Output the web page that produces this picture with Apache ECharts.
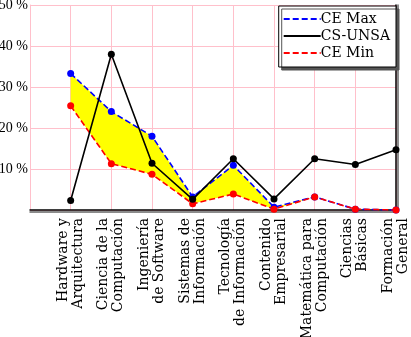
<!DOCTYPE html>
<html>
<head>
<meta charset="utf-8">
<script src="https://cdn.jsdelivr.net/npm/echarts@6/dist/echarts.min.js"></script>
<style>
  html, body { margin: 0; padding: 0; background: #fff; }
  #chart { width: 411px; height: 337px; }
</style>
</head>
<body>
<div id="chart"></div>
<script>
// Share of each knowledge area (%) in the curriculum
const categories = [
  'Hardware y\nArquitectura',
  'Ciencia de la\nComputación',
  'Ingeniería\nde Software',
  'Sistemas de\nInformación',
  'Tecnología\nde Información',
  'Contenido\nEmpresarial',
  'Matemática para\nComputación',
  'Ciencias\nBásicas',
  'Formación\nGeneral'
];
const ceMax  = [33.3, 24.0, 18.0, 3.2, 10.9, 0.7, 3.2, 0.2, 0];
const csUnsa = [2.3, 38.0, 11.4, 2.6, 12.5, 2.7, 12.5, 11.1, 14.7];
const ceMin  = [25.4, 11.3, 8.7, 1.5, 3.9, 0.2, 3.2, 0.2, 0];
const yTicks = [0, 10, 20, 30, 40, 50];

const FONT = 'DejaVu Serif';
const PINK = '#ffc0cb';

// one empty slot before the first area leaves room next to the y axis
const axisCats = [''].concat(categories);
const padded = arr => [null].concat(arr);
const bandWidth = ceMax.map((v, i) => +(v - ceMin[i]).toFixed(2));

const chart = echarts.init(document.getElementById('chart'), null, { renderer: 'canvas' });

chart.setOption({
  animation: false,
  textStyle: { fontFamily: FONT },
  grid: { left: 30, right: 15, top: 5, bottom: 127, containLabel: false, outerBoundsMode: 'none' },
  legend: {
    data: ['CE Max', 'CS-UNSA', 'CE Min'],
    orient: 'vertical',
    right: 15,
    top: 6,
    padding: [6, 6, 7, 4],
    itemWidth: 37,
    itemHeight: 14,
    itemGap: 3,
    backgroundColor: '#fff',
    borderColor: '#000',
    borderWidth: 1,
    borderRadius: 0,
    shadowColor: '#555',
    shadowOffsetX: 3,
    shadowOffsetY: 3,
    shadowBlur: 0,
    itemStyle: { opacity: 0 },
    textStyle: { fontFamily: FONT, fontSize: 14, color: '#000', padding: [0, 0, 0, -5] }
  },
  xAxis: {
    type: 'category',
    data: axisCats,
    boundaryGap: false,
    axisLine: {
      show: true,
      onZero: false,
      lineStyle: { color: '#000', width: 1.5, shadowColor: '#666', shadowOffsetY: 2, shadowBlur: 0 }
    },
    axisTick: { show: false },
    splitLine: { show: true, interval: 0, lineStyle: { color: PINK, width: 1 } },
    axisLabel: {
      show: true,
      interval: 0,
      rotate: 90,
      margin: 8,
      fontFamily: FONT,
      fontSize: 14,
      lineHeight: 15,
      color: '#000'
    }
  },
  yAxis: [
    {
      type: 'value',
      min: yTicks[0],
      max: yTicks[yTicks.length - 1],
      interval: 10,
      axisLine: { show: true, lineStyle: { color: PINK, width: 1 } },
      axisTick: { show: false },
      splitLine: { show: true, lineStyle: { color: PINK, width: 1 } },
      axisLabel: {
        margin: 2,
        fontFamily: 'Liberation Serif',
        fontSize: 14,
        color: '#000',
        formatter: v => (v === 0 ? '' : v + ' %')
      }
    },
    {
      type: 'value',
      position: 'right',
      min: yTicks[0],
      max: yTicks[yTicks.length - 1],
      interval: 10,
      axisLine: {
        show: true,
        lineStyle: { color: '#000', width: 1.5, shadowColor: '#666', shadowOffsetX: 2, shadowBlur: 0 }
      },
      axisTick: { show: false },
      axisLabel: { show: false },
      splitLine: { show: false }
    }
  ],
  series: [
    {
      name: 'band-base',
      type: 'line',
      stack: 'band',
      data: padded(ceMin),
      symbol: 'none',
      lineStyle: { opacity: 0 },
      silent: true,
      z: 1
    },
    {
      name: 'band',
      type: 'line',
      stack: 'band',
      data: padded(bandWidth),
      symbol: 'none',
      lineStyle: { opacity: 0 },
      areaStyle: { color: '#ffff00', opacity: 1 },
      silent: true,
      z: 1
    },
    {
      name: 'CE Max',
      type: 'line',
      data: padded(ceMax),
      symbol: 'circle',
      symbolSize: 7,
      itemStyle: { color: '#0000ff' },
      lineStyle: { color: '#0000ff', width: 1.6, type: [6, 3] },
      z: 3
    },
    {
      name: 'CE Min',
      type: 'line',
      data: padded(ceMin),
      symbol: 'circle',
      symbolSize: 7,
      itemStyle: { color: '#ff0000' },
      lineStyle: { color: '#ff0000', width: 1.6, type: [6, 3] },
      z: 3
    },
    {
      name: 'CS-UNSA',
      type: 'line',
      data: padded(csUnsa),
      symbol: 'circle',
      symbolSize: 7,
      itemStyle: { color: '#000' },
      lineStyle: { color: '#000', width: 1.6 },
      z: 4
    }
  ]
});
</script>
</body>
</html>
